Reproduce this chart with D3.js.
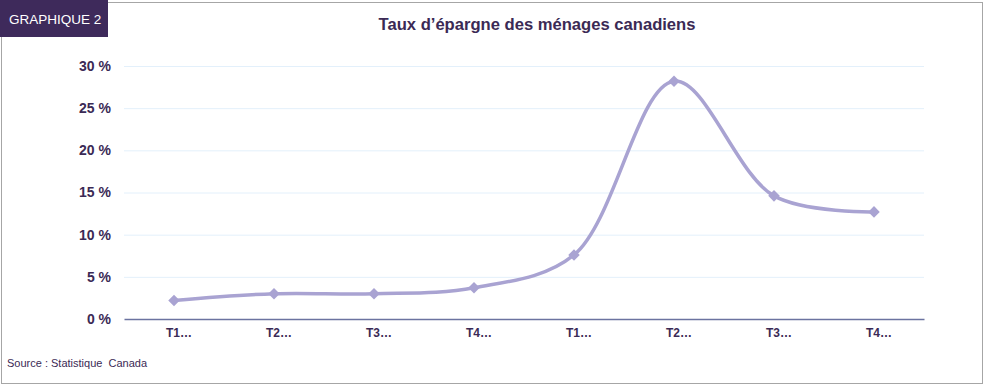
<!DOCTYPE html>
<html>
<head>
<meta charset="utf-8">
<script src="https://cdn.jsdelivr.net/npm/d3@7"></script>
<style>
  body { margin: 0; background: #fff; }
  svg { display: block; font-family: "Liberation Sans", Arial, sans-serif; }
</style>
</head>
<body>
<div id="viz"></div>
<script>
const width = 985;
const height = 386;
const margin = {top: 66, right: 61, bottom: 67, left: 124};
const textColor = '#3b2a55';
const lineColor = '#a9a3d2';

const categories = ['T1…', 'T2…', 'T3…', 'T4…', 'T1…', 'T2…', 'T3…', 'T4…'];
const savingsRate = [2.2, 3.0, 3.0, 3.7, 7.6, 28.2, 14.6, 12.7];
const yTicks = [0, 5, 10, 15, 20, 25, 30];

const svg = d3.select('#viz')
    .append('svg')
        .attr('width', width)
        .attr('height', height);

// outer frame
svg.append('rect')
    .attr('x', 1.5)
    .attr('y', 2.5)
    .attr('width', 981)
    .attr('height', 381)
    .attr('fill', 'none')
    .attr('stroke', '#a6a6a6')
    .attr('stroke-width', 1);

// badge
svg.append('rect')
    .attr('x', 0)
    .attr('y', 0)
    .attr('width', 108)
    .attr('height', 37)
    .attr('fill', '#3e2a5b');

svg.append('text')
    .attr('x', 9)
    .attr('y', 24)
    .attr('fill', '#fff')
    .attr('font-size', 13.5)
    .text('GRAPHIQUE 2');

svg.append('text')
    .attr('x', 537)
    .attr('y', 30)
    .attr('text-anchor', 'middle')
    .attr('fill', textColor)
    .attr('font-size', 16.6)
    .attr('font-weight', 'bold')
    .text('Taux d’épargne des ménages canadiens');

const x = d3.scaleBand()
    .domain(d3.range(categories.length))
    .range([margin.left, width - margin.right]);

const y = d3.scaleLinear()
    .domain([0, 30])
    .range([height - margin.bottom, margin.top]);

// gridlines
svg.append('g')
    .selectAll('line')
    .data(yTicks.slice(1))
    .join('line')
        .attr('x1', margin.left)
        .attr('x2', width - margin.right)
        .attr('y1', d => y(d) + 0.5)
        .attr('y2', d => y(d) + 0.5)
        .attr('stroke', '#e3f0fb')
        .attr('stroke-width', 1);

// y axis labels
const yAxis = svg.append('g')
    .attr('transform', `translate(${margin.left}, 0)`)
    .call(d3.axisLeft(y).tickValues(yTicks).tickSize(0).tickPadding(13).tickFormat(d => d + ' %'));
yAxis.select('.domain').remove();
yAxis.selectAll('text')
    .attr('fill', textColor)
    .attr('font-size', 14)
    .attr('font-weight', 'bold')
    .attr('font-family', '"Liberation Sans", Arial, sans-serif');

// x axis
const xAxis = svg.append('g')
    .attr('transform', `translate(0, ${height - margin.bottom})`)
    .call(d3.axisBottom(x).tickSize(0).tickPadding(9.5).tickFormat(i => categories[i]));
xAxis.select('.domain')
    .attr('stroke', '#6b73a0')
    .attr('stroke-width', 1.3);
xAxis.selectAll('text')
    .attr('dx', 5)
    .attr('fill', textColor)
    .attr('font-size', 12)
    .attr('font-weight', 'bold')
    .attr('font-family', '"Liberation Sans", Arial, sans-serif');

const cx = i => x(i) + x.bandwidth() / 2;

const line = d3.line()
    .x((d, i) => cx(i))
    .y(d => y(d))
    .curve(d3.curveCatmullRom.alpha(0.5));

svg.append('path')
    .attr('d', line(savingsRate))
    .attr('fill', 'none')
    .attr('stroke', lineColor)
    .attr('stroke-width', 3.5)
    .attr('stroke-linecap', 'round');

svg.append('g')
    .selectAll('path')
    .data(savingsRate)
    .join('path')
        .attr('d', d3.symbol(d3.symbolDiamond2, 85))
        .attr('transform', (d, i) => `translate(${cx(i)}, ${y(d)})`)
        .attr('fill', lineColor);

svg.append('text')
    .attr('x', 7)
    .attr('y', 367)
    .attr('fill', textColor)
    .attr('font-size', 11)
    .attr('xml:space', 'preserve')
    .style('white-space', 'pre')
    .text('Source : Statistique  Canada');
</script>
</body>
</html>
